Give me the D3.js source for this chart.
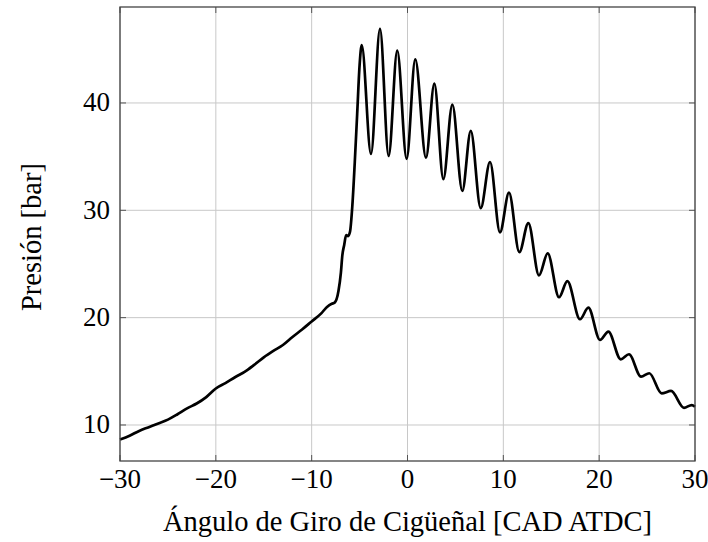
<!DOCTYPE html>
<html><head><meta charset="utf-8">
<script src="https://cdn.jsdelivr.net/npm/d3@7"></script>
<style>
html,body{margin:0;padding:0;background:#fff;}
text{font-family:"Liberation Serif","DejaVu Serif",serif;fill:#000;}
</style></head>
<body><svg id="chart" width="708" height="542"></svg>
<script>
const angle = [-30,-29,-28,-27,-26,-25,-24,-23,-22,-21,-20,-19,-18,-17,-16,-15,-14,-13,-12,-11,-10,-9,-8.4,-7.9,-7.6,-7.2,-6.95,-6.8,-6.6,-6.4,-6.2,-6.0,-5.75,-5.5,-5.25,-5.0,
  -4.78,-3.81,-2.87,-1.97,-1.07,-0.09,0.81,1.93,2.80,3.74,4.68,5.72,6.60,7.64,8.61,9.65,10.59,11.67,12.61,13.72,14.63,15.81,16.68,18.0,18.87,20.09,20.96,22.25,23.11,24.37,25.23,26.52,27.5,28.85,29.66,30];
const pressure = [8.65,9.0,9.45,9.8,10.15,10.5,11.0,11.55,12.0,12.6,13.4,13.9,14.45,14.95,15.6,16.3,16.9,17.45,18.2,18.9,19.65,20.4,21.0,21.3,21.4,22.5,24.2,25.8,26.8,27.7,27.6,28.0,30.5,34.5,39.0,43.5,
  45.4,35.25,46.9,35.06,44.87,34.8,44.07,34.9,41.8,32.9,39.85,31.8,37.4,30.2,34.5,27.95,31.64,26.1,28.8,23.94,25.99,21.9,23.4,19.85,20.93,17.92,18.69,16.12,16.59,14.5,14.82,12.95,13.17,11.6,11.86,11.7];
const xTicks = [-30,-20,-10,0,10,20,30];
const yTicks = [10,20,30,40];
const xLabel = "Ángulo de Giro de Cigüeñal [CAD ATDC]";
const yLabel = "Presión [bar]";

const svg = d3.select("#chart");
const L=120,R=695,T=7,B=461;
const x = d3.scaleLinear().domain([-30,30]).range([L,R]);
const y = d3.scaleLinear().domain([6.646,48.94]).range([B,T]);

// grid
svg.append("g").selectAll("line").data(xTicks).join("line")
  .attr("x1",d=>x(d)).attr("x2",d=>x(d)).attr("y1",T).attr("y2",B)
  .attr("stroke","#c8c8c8").attr("stroke-width",1);
svg.append("g").selectAll("line").data(yTicks).join("line")
  .attr("x1",L).attr("x2",R).attr("y1",d=>y(d)).attr("y2",d=>y(d))
  .attr("stroke","#c8c8c8").attr("stroke-width",1);

// ticks (inward, on all sides)
const tk=6;
const tg=svg.append("g").attr("stroke","#555").attr("stroke-width",1);
xTicks.forEach(d=>{
  tg.append("line").attr("x1",x(d)).attr("x2",x(d)).attr("y1",B).attr("y2",B-tk);
  tg.append("line").attr("x1",x(d)).attr("x2",x(d)).attr("y1",T).attr("y2",T+tk);
});
yTicks.forEach(d=>{
  tg.append("line").attr("x1",L).attr("x2",L+tk).attr("y1",y(d)).attr("y2",y(d));
  tg.append("line").attr("x1",R).attr("x2",R-tk).attr("y1",y(d)).attr("y2",y(d));
});

// data line
const data = angle.map((a,i)=>[a,pressure[i]]);
svg.append("path").datum(data)
  .attr("fill","none").attr("stroke","#000").attr("stroke-width",2.7)
  .attr("stroke-linejoin","round")
  .attr("d",d3.line().x(d=>x(d[0])).y(d=>y(d[1])).curve(d3.curveMonotoneX));

// frame
svg.append("rect").attr("x",L).attr("y",T).attr("width",R-L).attr("height",B-T)
  .attr("fill","none").attr("stroke","#444").attr("stroke-width",1.3);

// tick labels
svg.append("g").selectAll("text").data(xTicks).join("text")
  .attr("x",d=>x(d)).attr("y",488).attr("text-anchor","middle")
  .attr("font-size",27)
  .text(d=>d<0?"\u2212"+Math.abs(d):d);
svg.append("g").selectAll("text").data(yTicks).join("text")
  .attr("x",110).attr("y",d=>y(d)+8.5).attr("text-anchor","end")
  .attr("font-size",27).text(d=>d);

// axis labels
svg.append("text").attr("x",(L+R)/2).attr("y",531).attr("text-anchor","middle")
  .attr("font-size",28.5).text(xLabel);
svg.append("text").attr("transform","translate(41,237) rotate(-90)")
  .attr("text-anchor","middle").attr("font-size",28.5).text(yLabel);
</script></body></html>
